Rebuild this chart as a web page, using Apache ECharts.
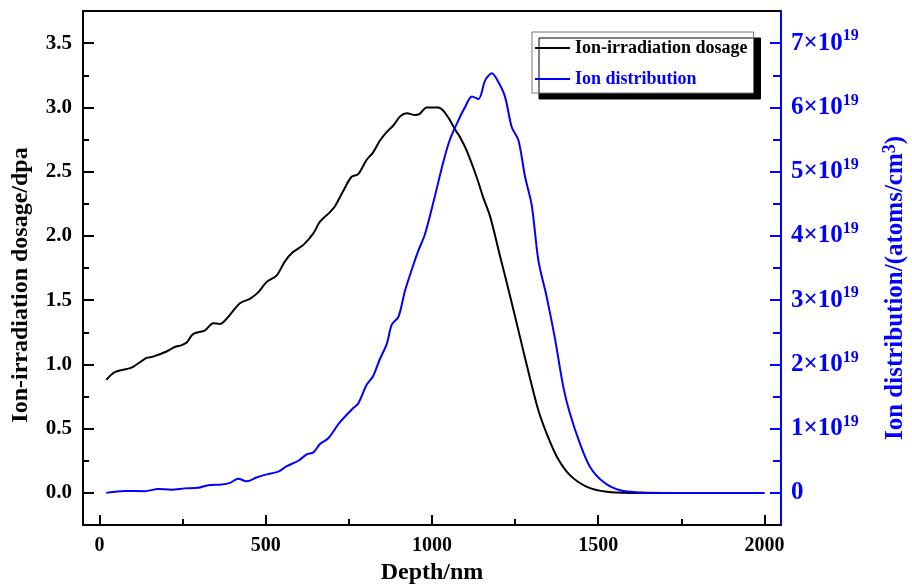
<!DOCTYPE html>
<html>
<head>
<meta charset="utf-8">
<script src="https://cdn.jsdelivr.net/npm/echarts@6/dist/echarts.min.js"></script>
<style>html,body{margin:0;padding:0;background:#fff;}#c{width:912px;height:586px;}</style>
</head>
<body>
<div id="c"></div>
<script>
// ---- data ----
const doseDepth = [20,46,96,141,161,201,226,247,262,281,317,342,362,382,422,452,477,502,532,557,580,613,643,663,693,708,733,758,778,803,823,843,864,884,904,924,949,963,984,1019,1034,1054,1069,1084,1104,1134,1154,1175,1205,1235,1265,1295,1320,1345,1376,1415,1466,1526,1596,1700,1800,1900,2000];
const doseValue = [0.88,0.94,0.975,1.05,1.06,1.10,1.135,1.15,1.17,1.235,1.265,1.32,1.315,1.355,1.475,1.51,1.56,1.64,1.69,1.80,1.87,1.93,2.02,2.11,2.185,2.23,2.35,2.46,2.48,2.59,2.65,2.74,2.81,2.86,2.93,2.955,2.94,2.95,3.0,3.0,2.975,2.90,2.83,2.77,2.665,2.46,2.30,2.15,1.84,1.53,1.21,0.89,0.643,0.462,0.28,0.138,0.047,0.008,0.0,0,0,0,0];
const ionDepth = [20,76,136,176,216,256,296,327,367,392,417,442,472,497,537,563,598,623,643,663,688,723,763,778,803,823,843,864,879,899,919,944,959,979,1004,1034,1054,1084,1099,1120,1140,1160,1180,1200,1220,1240,1260,1280,1300,1320,1345,1370,1395,1415,1445,1476,1516,1566,1636,1700,1800,1900,2000];
// ion distribution in units of 1e19 atoms/cm^3
const ionValue = [0,0.03,0.026,0.06,0.05,0.07,0.08,0.12,0.13,0.155,0.22,0.18,0.24,0.28,0.33,0.415,0.50,0.60,0.63,0.76,0.85,1.10,1.32,1.39,1.68,1.82,2.08,2.32,2.62,2.74,3.15,3.55,3.77,4.03,4.52,5.15,5.50,5.85,6.0,6.17,6.13,6.42,6.53,6.39,6.16,5.69,5.49,4.92,4.48,3.62,3.05,2.40,1.65,1.235,0.77,0.40,0.17,0.04,0.005,0,0,0,0];
const xMajor = [0,500,1000,1500,2000];
const xMinor = [250,750,1250,1750];
const yMajor = [0,0.5,1.0,1.5,2.0,2.5,3.0,3.5];
const yMinor = [0.25,0.75,1.25,1.75,2.25,2.75,3.25];
const ionMajor = [0,1,2,3,4,5,6,7];
const ionMinor = [0.5,1.5,2.5,3.5,4.5,5.5,6.5];
const seriesNames = ['Ion-irradiation dosage','Ion distribution'];

const FF = '"Liberation Serif","Times New Roman",serif';
const BLUE = '#0000ff';
const chart = echarts.init(document.getElementById('c'));
const pair = (xs, ys) => xs.map((x, i) => [x, ys[i]]);

chart.setOption({
  animation: false,
  backgroundColor: '#fff',
  grid: {left: 83, right: 131, top: 11, bottom: 61, show: true, borderColor: '#000', borderWidth: 2, outerBoundsMode: 'none', containLabel: false},
  legend: {
    orient: 'vertical', left: 532, top: 32,
    padding: [7, 6, 5, 3], itemGap: 13, itemWidth: 35, itemHeight: 2,
    backgroundColor: '#fff', borderColor: '#777', borderWidth: 1,
    shadowColor: '#000', shadowBlur: 0, shadowOffsetX: 7, shadowOffsetY: 6,
    textStyle: {fontFamily: FF, fontWeight: 'bold', fontSize: 18, color: '#000'},
    data: [
      {name: seriesNames[0], icon: 'rect', itemStyle: {color: '#000'}},
      {name: seriesNames[1], icon: 'rect', itemStyle: {color: BLUE}, textStyle: {color: BLUE}}
    ]
  },
  xAxis: [{
    type: 'value', min: -50, max: 2050, position: 'bottom',
    axisLine: {show: true, onZero: false, lineStyle: {color: '#000', width: 2}},
    axisTick: {show: true, inside: true, length: 10, lineStyle: {color: '#000', width: 2}, customValues: xMajor},
    axisLabel: {customValues: xMajor, margin: 11, formatter: v => String(v), fontFamily: FF, fontWeight: 'bold', fontSize: 20, color: '#000'},
    splitLine: {show: false},
    name: 'Depth/nm', nameLocation: 'middle', nameGap: 36,
    nameTextStyle: {fontFamily: FF, fontWeight: 'bold', fontSize: 24, color: '#000'}
  }, {
    type: 'value', min: -50, max: 2050, position: 'bottom',
    axisLine: {show: false, onZero: false},
    axisTick: {show: true, inside: true, length: 6, lineStyle: {color: '#000', width: 2}, customValues: xMinor},
    axisLabel: {show: false}, splitLine: {show: false}
  }],
  yAxis: [{
    type: 'value', min: -0.25, max: 3.75, position: 'left',
    axisLine: {show: true, onZero: false, lineStyle: {color: '#000', width: 2}},
    axisTick: {show: true, inside: true, length: 11, lineStyle: {color: '#000', width: 2}, customValues: yMajor},
    axisLabel: {customValues: yMajor, margin: 11, formatter: v => v.toFixed(1), fontFamily: FF, fontWeight: 'bold', fontSize: 21, color: '#000'},
    splitLine: {show: false},
    name: 'Ion-irradiation dosage/dpa', nameLocation: 'middle', nameGap: 50,
    nameTextStyle: {fontFamily: FF, fontWeight: 'bold', fontSize: 24, color: '#000', padding: [0, 34, 0, 0]}
  }, {
    type: 'value', min: -0.25, max: 3.75, position: 'left',
    axisLine: {show: false, onZero: false},
    axisTick: {show: true, inside: true, length: 6, lineStyle: {color: '#000', width: 2}, customValues: yMinor},
    axisLabel: {show: false}, splitLine: {show: false}
  }, {
    type: 'value', min: -0.5, max: 7.5, position: 'right',
    axisLine: {show: true, onZero: false, lineStyle: {color: BLUE, width: 2}},
    axisTick: {show: true, inside: true, length: 11, lineStyle: {color: BLUE, width: 2}, customValues: ionMajor},
    axisLabel: {
      customValues: ionMajor, margin: 10,
      formatter: v => v === 0 ? '{b|0}' : '{b|' + v + '×10}{s|19}',
      rich: {
        b: {fontFamily: FF, fontWeight: 'bold', fontSize: 25, color: BLUE, lineHeight: 30},
        s: {fontFamily: FF, fontWeight: 'bold', fontSize: 16, color: BLUE, verticalAlign: 'top', lineHeight: 15}
      }
    },
    splitLine: {show: false},
    name: '{a|Ion distribution/(atoms/cm}{s|3}{a|)}', nameLocation: 'middle', nameGap: 100,
    nameTextStyle: {
      color: BLUE, padding: [0, 40, 0, 0],
      rich: {
        a: {fontFamily: FF, fontWeight: 'bold', fontSize: 25, color: BLUE, lineHeight: 30},
        s: {fontFamily: FF, fontWeight: 'bold', fontSize: 18, color: BLUE, verticalAlign: 'top', lineHeight: 18}
      }
    }
  }, {
    type: 'value', min: -0.5, max: 7.5, position: 'right',
    axisLine: {show: false, onZero: false},
    axisTick: {show: true, inside: true, length: 8, lineStyle: {color: BLUE, width: 2}, customValues: ionMinor},
    axisLabel: {show: false}, splitLine: {show: false}
  }],
  series: [{
    name: seriesNames[0], type: 'line', xAxisIndex: 0, yAxisIndex: 0,
    data: pair(doseDepth, doseValue), symbol: 'none', smooth: 0.3,
    lineStyle: {color: '#000', width: 2}, itemStyle: {color: '#000'}
  }, {
    name: seriesNames[1], type: 'line', xAxisIndex: 0, yAxisIndex: 2,
    data: pair(ionDepth, ionValue), symbol: 'none', smooth: 0.3,
    lineStyle: {color: BLUE, width: 2}, itemStyle: {color: BLUE}
  }]
});
</script>
</body>
</html>
